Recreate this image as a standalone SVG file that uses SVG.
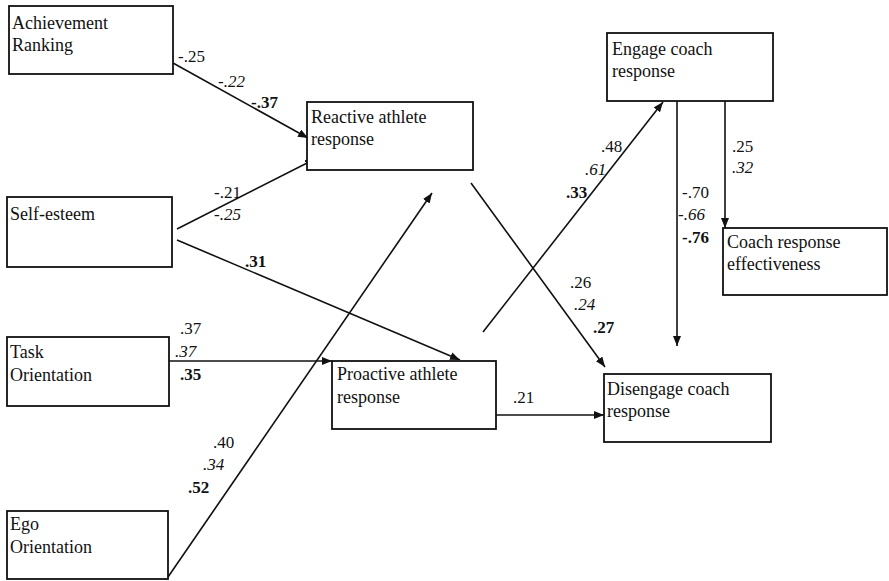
<svg xmlns="http://www.w3.org/2000/svg" width="889" height="581" viewBox="0 0 889 581">
<style>
.box{fill:#fff;stroke:#111;stroke-width:1.8}
.t{font-family:'Liberation Serif','Times New Roman',Times,'DejaVu Serif',serif;font-size:18px;fill:#111}
.n{font-family:'Liberation Serif','Times New Roman',Times,'DejaVu Serif',serif;font-size:17px;fill:#111}
.i{font-style:italic}
.b{font-weight:bold}
.c{fill:none;stroke:#111;stroke-width:1.6}
</style>
<defs>
<marker id="ah" viewBox="0 0 10 8" refX="10" refY="4" markerWidth="10" markerHeight="8" markerUnits="userSpaceOnUse" orient="auto">
<path d="M0,0 L10,4 L0,8 z" fill="#111"/>
</marker>
</defs>
<rect width="889" height="581" fill="#fff"/>
<g id="connectors">
<line class="c" x1="173" y1="63" x2="308" y2="138" marker-end="url(#ah)"/>
<line class="c" x1="177" y1="229" x2="315" y2="159" marker-end="url(#ah)"/>
<line class="c" x1="177" y1="240" x2="460" y2="360" marker-end="url(#ah)"/>
<line class="c" x1="169" y1="361" x2="332" y2="361" marker-end="url(#ah)"/>
<line class="c" x1="168" y1="577" x2="432" y2="193" marker-end="url(#ah)"/>
<line class="c" x1="471" y1="183" x2="605" y2="367" marker-end="url(#ah)"/>
<line class="c" x1="483" y1="332" x2="663" y2="102" marker-end="url(#ah)"/>
<line class="c" x1="496" y1="415" x2="604" y2="415" marker-end="url(#ah)"/>
<line class="c" x1="677" y1="101" x2="677" y2="346" marker-end="url(#ah)"/>
<line class="c" x1="725" y1="101" x2="725" y2="228" marker-end="url(#ah)"/>
</g>
<g id="labels">
<text class="n" x="178" y="62">-.25</text>
<text class="n i" x="218" y="87">-.22</text>
<text class="n b" x="251" y="108">-.37</text>
<text class="n" x="214" y="198">-.21</text>
<text class="n i" x="214" y="220">-.25</text>
<text class="n b" x="245" y="267">.31</text>
<text class="n" x="180" y="334">.37</text>
<text class="n i" x="175" y="357">.37</text>
<text class="n b" x="180" y="380">.35</text>
<text class="n" x="213" y="448">.40</text>
<text class="n i" x="203" y="470">.34</text>
<text class="n b" x="188" y="493">.52</text>
<text class="n" x="601" y="152">.48</text>
<text class="n i" x="585" y="175">.61</text>
<text class="n b" x="566" y="198">.33</text>
<text class="n" x="570" y="288">.26</text>
<text class="n i" x="574" y="310">.24</text>
<text class="n b" x="593" y="333">.27</text>
<text class="n" x="513" y="403">.21</text>
<text class="n" x="682" y="198">-.70</text>
<text class="n i" x="678" y="220">-.66</text>
<text class="n b" x="682" y="243">-.76</text>
<text class="n" x="732" y="152">.25</text>
<text class="n i" x="732" y="173">.32</text>
</g>
<g id="achievement">
<rect class="box" x="9" y="6" width="164" height="68"/>
<text class="t" x="12" y="29">Achievement</text>
<text class="t" x="12" y="51">Ranking</text>
</g>
<g id="reactive">
<rect class="box" x="307" y="102" width="166" height="68"/>
<text class="t" x="311" y="123">Reactive athlete</text>
<text class="t" x="311" y="145">response</text>
</g>
<g id="engage">
<rect class="box" x="607" y="33" width="166" height="68"/>
<text class="t" x="612" y="55">Engage coach</text>
<text class="t" x="612" y="77">response</text>
</g>
<g id="effectiveness">
<rect class="box" x="723" y="228" width="164" height="67"/>
<text class="t" x="727" y="248">Coach response</text>
<text class="t" x="727" y="270">effectiveness</text>
</g>
<g id="selfesteem">
<rect class="box" x="7" y="197" width="165" height="70"/>
<text class="t" x="10" y="220">Self-esteem</text>
</g>
<g id="task">
<rect class="box" x="7" y="337" width="162" height="69"/>
<text class="t" x="10" y="358">Task</text>
<text class="t" x="10" y="381">Orientation</text>
</g>
<g id="ego">
<rect class="box" x="7" y="511" width="161" height="68"/>
<text class="t" x="10" y="530">Ego</text>
<text class="t" x="10" y="553">Orientation</text>
</g>
<g id="proactive">
<rect class="box" x="332" y="361" width="164" height="68"/>
<text class="t" x="337" y="380">Proactive athlete</text>
<text class="t" x="337" y="403">response</text>
</g>
<g id="disengage">
<rect class="box" x="604" y="374" width="167" height="68"/>
<text class="t" x="607" y="395">Disengage coach</text>
<text class="t" x="607" y="417">response</text>
</g>
</svg>
